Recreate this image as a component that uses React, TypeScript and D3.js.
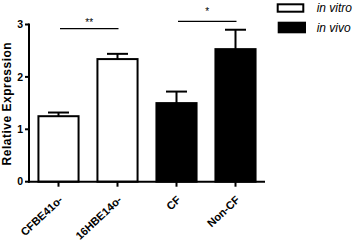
import React from "react";
import * as d3 from "d3";

const categories = ["CFBE41o-", "16HBE14o-", "CF", "Non-CF"];
const values = [1.25, 2.34, 1.5, 2.53];
const errors = [0.07, 0.1, 0.22, 0.37];
const groups = ["in vitro", "in vitro", "in vivo", "in vivo"];
const yTicks = [0, 1, 2, 3];
const legendItems = ["in vitro", "in vivo"];
const sigs = [
  { from: 0, to: 1, y: 2.92, label: "**" },
  { from: 2, to: 3, y: 3.06, label: "*" },
];

export default function App() {
  const W = 356, H = 241;
  const x0 = 29, x1 = 265, yBottom = 181.7, yTop = 24.5;
  const x = d3.scaleBand<string>().domain(categories).range([x0, x1]).paddingInner(0.32).paddingOuter(0.16);
  const y = d3.scaleLinear().domain([0, 3]).range([yBottom, yTop]);
  const font = "Liberation Sans, Arial, sans-serif";
  const fill = (g: string) => (g === "in vivo" ? "#000" : "#fff");
  const center = (c: string) => (x(c) as number) + x.bandwidth() / 2;
  return (
    <svg width={W} height={H} style={{ position: "absolute", left: 0, top: 0 }} fontFamily={font}>
      {categories.map((c, i) => {
        const cx = center(c);
        return (
          <g key={c}>
            <line x1={cx} x2={cx} y1={y(values[i])} y2={y(values[i] + errors[i])} stroke="#000" strokeWidth={2} />
            <line x1={cx - 10.5} x2={cx + 10.5} y1={y(values[i] + errors[i])} y2={y(values[i] + errors[i])} stroke="#000" strokeWidth={2} />
            <rect x={x(c)} y={y(values[i])} width={x.bandwidth()} height={yBottom - y(values[i])} fill={fill(groups[i])} stroke="#000" strokeWidth={2} />
          </g>
        );
      })}
      {/* y axis */}
      <line x1={x0} x2={x0} y1={yTop - 1} y2={yBottom + 1} stroke="#000" strokeWidth={2} />
      {yTicks.map((t) => (
        <g key={t}>
          <line x1={x0 - 4} x2={x0} y1={y(t)} y2={y(t)} stroke="#000" strokeWidth={2} />
          <text x={x0 - 6} y={y(t)} dy="0.36em" textAnchor="end" fontSize={10.5} fontWeight="bold">{t}</text>
        </g>
      ))}
      {/* x axis */}
      <line x1={x0 - 1} x2={x1} y1={yBottom} y2={yBottom} stroke="#000" strokeWidth={2} />
      {categories.map((c) => {
        const cx = center(c);
        return (
          <g key={c}>
            <line x1={cx} x2={cx} y1={yBottom} y2={yBottom + 5} stroke="#000" strokeWidth={2} />
            <text transform={`translate(${cx + 5},${yBottom + 19}) rotate(-43)`} textAnchor="end" fontSize={11} fontWeight="bold">{c}</text>
          </g>
        );
      })}
      <text transform={`translate(10.5,${(yTop + yBottom) / 2 + 0.5}) rotate(-90)`} textAnchor="middle" fontSize={12} letterSpacing={0.5} fontWeight="bold">Relative Expression</text>
      {sigs.map((s, i) => {
        const a = center(categories[s.from]) + 1.5;
        const b = center(categories[s.to]) + 1;
        return (
          <g key={s.label}>
            <line x1={a} x2={b} y1={y(s.y)} y2={y(s.y)} stroke="#000" strokeWidth={1.2} />
            <text x={(a + b) / 2} y={y(s.y) - (i === 0 ? 3 : 6)} textAnchor="middle" fontSize={10}>{s.label}</text>
          </g>
        );
      })}
      {legendItems.map((l, i) => (
        <g key={l}>
          <rect x={277.7} y={i === 0 ? 4.3 : 21.7} width={i === 0 ? 25.6 : 28.3} height={i === 0 ? 7.4 : 11.6} fill={i === 0 ? "#fff" : "#000"} stroke="#000" strokeWidth={i === 0 ? 2 : 0} />
          <text x={316.7} y={i === 0 ? 12 : 31.5} fontSize={12} fontStyle="italic">{l}</text>
        </g>
      ))}
    </svg>
  );
}
